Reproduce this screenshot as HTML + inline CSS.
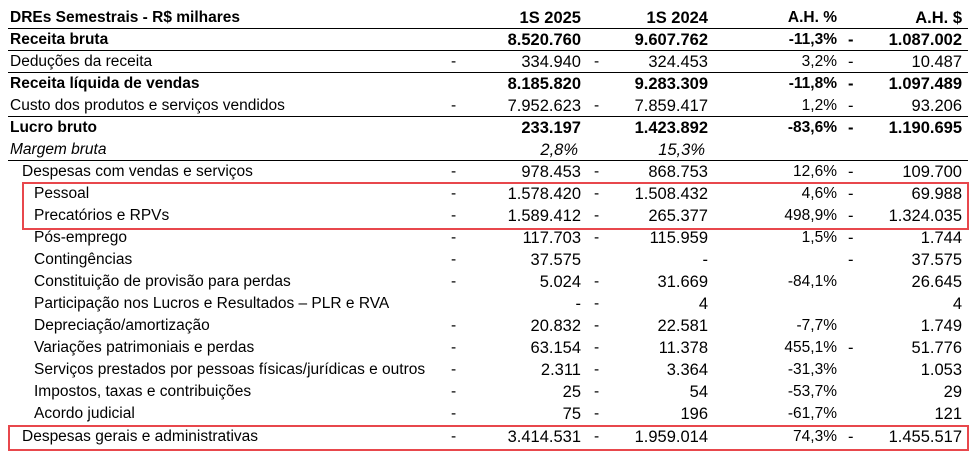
<!DOCTYPE html>
<html><head><meta charset="utf-8">
<style>
body{margin:0;background:#fff;}
#t{position:relative;width:980px;height:451px;font-family:"Liberation Sans",sans-serif;font-size:15.5px;color:#000;overflow:hidden;}
.r{position:absolute;left:0;width:980px;height:22px;line-height:22px;}
.r span{position:absolute;top:0;white-space:nowrap;}
.l{left:10px}
.v1{right:399px}.v2{right:272px}.p{right:143px}.v3{right:18px}
.d1{left:451px}.d2{left:594px}.d3{left:848px}
.num{font-size:16.5px}
.b{font-weight:bold}.i{font-style:italic}
.ln{position:absolute;left:8px;width:960px;height:1px;background:#000}
.box{position:absolute;border:2px solid #e8474c;box-sizing:border-box}
</style></head><body>
<div id="t">
</div>
<script>
const rows=[
["DREs Semestrais - R$ milhares",0,"b","","1S 2025","","1S 2024","A.H. %","","A.H. $"],
["Receita bruta",0,"b","","8.520.760","","9.607.762","-11,3%","-","1.087.002"],
["Deduções da receita",0,"","-","334.940","-","324.453","3,2%","-","10.487"],
["Receita líquida de vendas",0,"b","","8.185.820","","9.283.309","-11,8%","-","1.097.489"],
["Custo dos produtos e serviços vendidos",0,"","-","7.952.623","-","7.859.417","1,2%","-","93.206"],
["Lucro bruto",0,"b","","233.197","","1.423.892","-83,6%","-","1.190.695"],
["Margem bruta",0,"i","","2,8%","","15,3%","","",""],
["Despesas com vendas e serviços",12,"","-","978.453","-","868.753","12,6%","-","109.700"],
["Pessoal",24,"","-","1.578.420","-","1.508.432","4,6%","-","69.988"],
["Precatórios e RPVs",24,"","-","1.589.412","-","265.377","498,9%","-","1.324.035"],
["Pós-emprego",24,"","-","117.703","-","115.959","1,5%","-","1.744"],
["Contingências",24,"","-","37.575","","-","","-","37.575"],
["Constituição de provisão para perdas",24,"","-","5.024","-","31.669","-84,1%","","26.645"],
["Participação nos Lucros e Resultados – PLR e RVA",24,"","","-","-","4","","","4"],
["Depreciação/amortização",24,"","-","20.832","-","22.581","-7,7%","","1.749"],
["Variações patrimoniais e perdas",24,"","-","63.154","-","11.378","455,1%","-","51.776"],
["Serviços prestados por pessoas físicas/jurídicas e outros",24,"","-","2.311","-","3.364","-31,3%","","1.053"],
["Impostos, taxas e contribuições",24,"","-","25","-","54","-53,7%","","29"],
["Acordo judicial",24,"","-","75","-","196","-61,7%","","121"],
["Despesas gerais e administrativas",12,"","-","3.414.531","-","1.959.014","74,3%","-","1.455.517"]
];
const lines=[28,50,72,116,160];
const t=document.getElementById('t');
const cls=["d1","v1","d2","v2","p","d3","v3"];
rows.forEach((r,i)=>{
  const d=document.createElement('div');
  d.className='r';
  
  
  d.style.top=(7+22*i+(i==19?1:0))+'px';
  const st=r[2];
  const l=document.createElement('span');
  l.className='l '+st;
  l.style.left=(10+r[1])+'px';
  l.textContent=r[0];
  
  
  d.appendChild(l);
  for(let k=0;k<7;k++){
    const txt=r[3+k];if(!txt)continue;
    const s=document.createElement('span');
    s.className=cls[k]+' '+st+(k%2==1||k==6?' num':'');
    if(st=='i'&&(k==1||k==3))s.style.marginRight='3px';
    s.textContent=txt;
    
    
    d.appendChild(s);
  }
  t.appendChild(d);
});
lines.forEach(y=>{
  const l=document.createElement('div');
  l.className='ln';l.style.top=y+'px';
  
  
  t.appendChild(l);
});
[[22,182,947,48],[8,425,961,26]].forEach(b=>{
  const e=document.createElement('div');
  e.className='box';
  e.style.left=b[0]+'px';e.style.top=b[1]+'px';e.style.width=b[2]+'px';e.style.height=b[3]+'px';
  
  
  t.appendChild(e);
});
</script>
</body></html>
